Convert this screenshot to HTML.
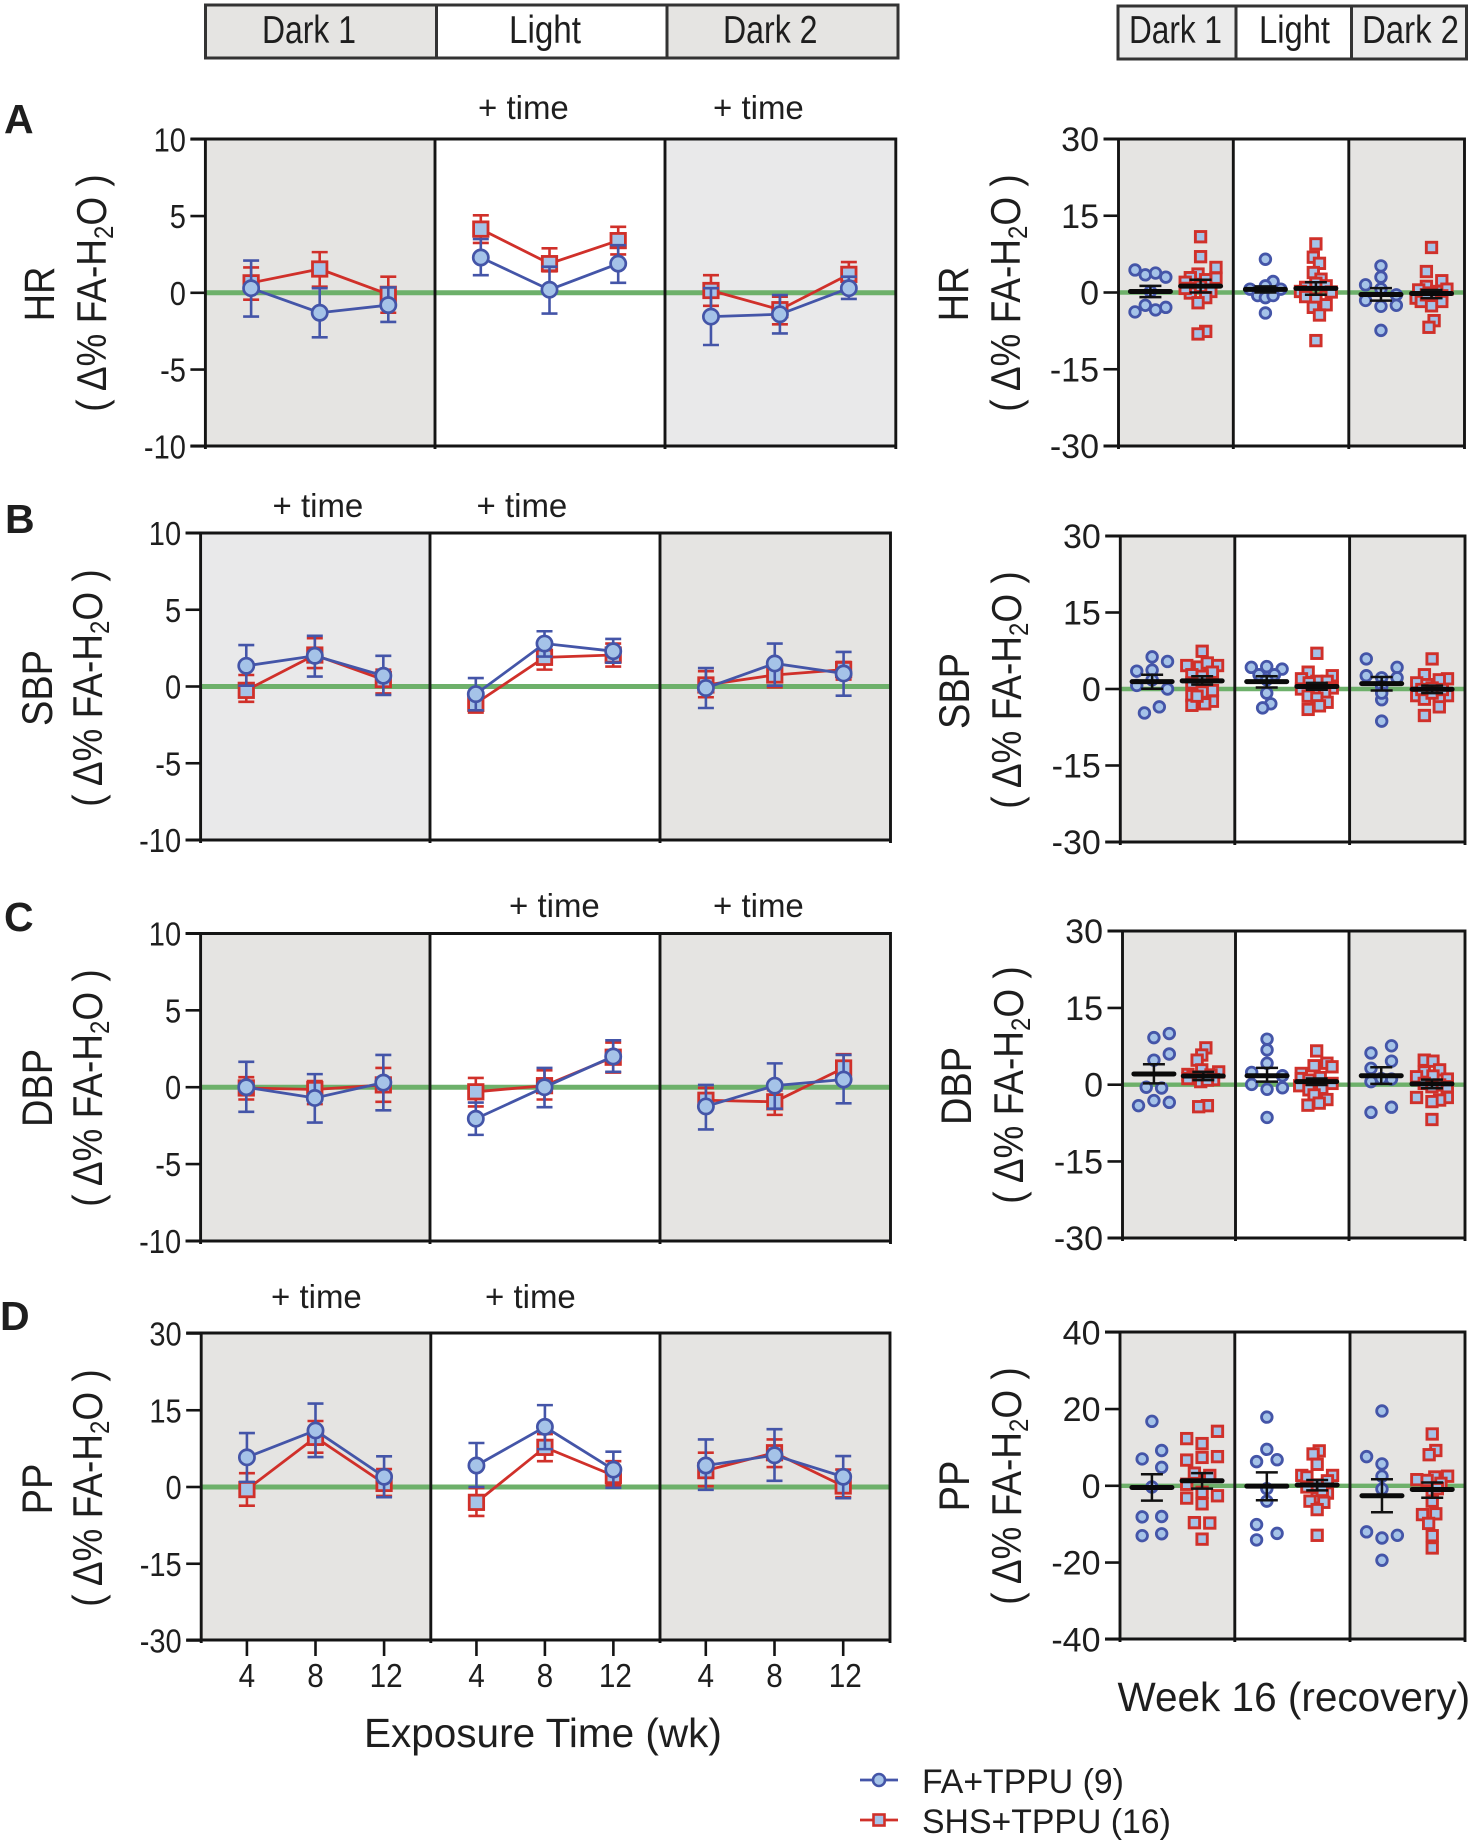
<!DOCTYPE html>
<html lang="en">
<head>
<meta charset="utf-8">
<title>Blood pressure and heart rate responses</title>
<style>
  html, body { margin: 0; padding: 0; background: #fff; }
  svg { display: block; font-family: "Liberation Sans", sans-serif; }
  text { fill: #1e1e1e; }
</style>
</head>
<body>
<svg id="figure" xmlns="http://www.w3.org/2000/svg" width="1472" height="1844" viewBox="0 0 1472 1844">
  <g>
    <rect x="205.5" y="5" width="231" height="53" fill="#e5e4e2" stroke="#333" stroke-width="3"/>
    <rect x="436.5" y="5" width="230.5" height="53" fill="#fff" stroke="#333" stroke-width="3"/>
    <rect x="667" y="5" width="231" height="53" fill="#e5e4e2" stroke="#333" stroke-width="3"/>
    <text x="262" y="43" font-size="39" textLength="94" lengthAdjust="spacingAndGlyphs">Dark 1</text>
    <text x="509" y="43" font-size="39" textLength="72" lengthAdjust="spacingAndGlyphs">Light</text>
    <text x="723" y="43" font-size="39" textLength="94.5" lengthAdjust="spacingAndGlyphs">Dark 2</text>
  </g>
  <g>
    <rect x="1118" y="6" width="118" height="53" fill="#ebebeb" stroke="#333" stroke-width="3"/>
    <rect x="1236" y="6" width="115.5" height="53" fill="#fff" stroke="#333" stroke-width="3"/>
    <rect x="1351.5" y="6" width="115" height="53" fill="#ebebeb" stroke="#333" stroke-width="3"/>
    <text x="1129" y="43" font-size="39" textLength="93" lengthAdjust="spacingAndGlyphs">Dark 1</text>
    <text x="1259" y="43" font-size="39" textLength="71" lengthAdjust="spacingAndGlyphs">Light</text>
    <text x="1362" y="43" font-size="39" textLength="97" lengthAdjust="spacingAndGlyphs">Dark 2</text>
  </g>
  <text x="4" y="133" font-size="41" font-weight="bold">A</text>
  <text x="5" y="533" font-size="41" font-weight="bold">B</text>
  <text x="4" y="931" font-size="41" font-weight="bold">C</text>
  <text x="0" y="1330" font-size="41" font-weight="bold">D</text>
  <text x="364" y="1747" font-size="40.5" fill="#333">Exposure Time (wk)</text>
  <text x="1117.5" y="1711" font-size="40.5" fill="#333">Week 16 (recovery)</text>
  <g>
    <g>
      <line x1="860" x2="898" y1="1780" y2="1780" stroke="#4455a8" stroke-width="2.8"/>
      <circle cx="879" cy="1780" r="6" fill="#a5c3e8" stroke="#4455a8" stroke-width="2.6"/>
      <text x="922" y="1793" font-size="33.8" fill="#333">FA+TPPU (9)</text>
    </g>
    <g>
      <line x1="860" x2="898" y1="1820" y2="1820" stroke="#d0302a" stroke-width="2.8"/>
      <rect x="873.5" y="1814.5" width="11" height="11" fill="#a5c3e8" stroke="#d0302a" stroke-width="2.6"/>
      <text x="922" y="1833" font-size="33.8" fill="#333">SHS+TPPU (16)</text>
    </g>
  </g>
</svg>
<script>
// ---------- Categories and tick labels ----------
const periods = ['Dark 1', 'Light', 'Dark 2'];
const weeks = [4, 8, 12];
const pctTicks = [-10, -5, 0, 5, 10];
const ppTicks = [-30, -15, 0, 15, 30];
const recoveryTicks = [-30, -15, 0, 15, 30];
const ppRecoveryTicks = [-40, -20, 0, 20, 40];

// ---------- Time course: nine values = three weeks in each of three periods ----------
const hrFaMean = [0.3, -1.3, -0.8, 2.3, 0.2, 1.9, -1.55, -1.4, 0.3];
const hrFaHigh = [2.1, 0.3, 0.35, 3.5, 1.7, 3.1, 0.3, -0.15, 1.05];
const hrFaLow = [-1.55, -2.9, -1.9, 1.15, -1.35, 0.65, -3.4, -2.65, -0.4];
const hrShsMean = [0.65, 1.55, -0.1, 4.15, 1.9, 3.4, 0.15, -1.1, 1.2];
const hrShsHigh = [1.65, 2.65, 1.05, 5.05, 2.9, 4.3, 1.15, -0.25, 2.0];
const hrShsLow = [-0.45, 0.4, -1.3, 3.25, 1.4, 2.5, -0.85, -2.05, 0.4];

const sbpFaMean = [1.35, 2.0, 0.7, -0.5, 2.8, 2.3, -0.1, 1.5, 0.85];
const sbpFaHigh = [2.7, 3.3, 2.0, 0.55, 3.6, 3.1, 1.2, 2.8, 2.25];
const sbpFaLow = [0.05, 0.65, -0.55, -1.55, 1.95, 1.55, -1.4, 0.05, -0.6];
const sbpShsMean = [-0.25, 2.05, 0.45, -1.1, 1.9, 2.05, 0.1, 0.75, 1.1];
const sbpShsHigh = [0.75, 3.15, 1.1, -0.65, 2.4, 2.8, 1.0, 1.3, 1.6];
const sbpShsLow = [-1.0, 1.2, -0.45, -1.7, 1.1, 1.3, -0.7, -0.05, 0.45];

const dbpFaMean = [0, -0.7, 0.3, -2.05, 0, 2.0, -1.25, 0.1, 0.5];
const dbpFaHigh = [1.65, 0.85, 2.1, -1.0, 1.25, 3.05, 0.15, 1.55, 2.1];
const dbpFaLow = [-1.6, -2.3, -1.5, -3.1, -1.3, 1.0, -2.75, -1.4, -1.05];
const dbpShsMean = [-0.05, -0.15, 0.15, -0.3, 0.1, 1.95, -0.85, -0.95, 1.25];
const dbpShsHigh = [0.65, 0.4, 1.25, 0.6, 1.1, 2.9, -0.05, -0.2, 2.15];
const dbpShsLow = [-0.8, -1.1, -0.95, -1.25, -0.8, 0.95, -1.25, -1.8, 0.35];

const ppFaMean = [5.8, 11.05, 2.0, 4.2, 11.75, 3.4, 4.2, 6.2, 2.0];
const ppFaHigh = [10.55, 16.3, 6.0, 8.6, 16, 6.9, 9.3, 11.3, 6.05];
const ppFaLow = [1.0, 5.85, -2.0, 0, 7.4, -0.15, -0.55, 1.2, -2.2];
const ppShsMean = [-0.5, 9.7, 0.7, -3.0, 7.75, 2.25, 3.2, 6.7, 0.2];
const ppShsHigh = [2.7, 12.9, 3.5, -0.2, 10.35, 5.05, 6.7, 9.3, 3.4];
const ppShsLow = [-3.65, 6.7, -1.75, -5.65, 5.05, 0.35, 0.15, 3.9, -2.0];

// ---------- Week 16 recovery: three values per array = one per period ----------
const hrFaRecMean = [0.2, 0.6, -0.4];
const hrFaRecHigh = [1.3, 1.2, 0.85];
const hrFaRecLow = [-0.9, 0, -1.6];
const hrShsRecMean = [1.25, 0.8, -0.2];
const hrShsRecHigh = [2.5, 2, 0.5];
const hrShsRecLow = [0, -0.45, -1.1];

const sbpFaRecMean = [1.45, 1.45, 1.05];
const sbpFaRecHigh = [2.8, 2.5, 2.35];
const sbpFaRecLow = [0.05, 0.3, -0.3];
const sbpShsRecMean = [1.6, 0.5, -0.05];
const sbpShsRecHigh = [2.5, 1.2, 0.65];
const sbpShsRecLow = [0.85, -0.15, -0.8];

const dbpFaRecMean = [2.1, 1.75, 1.75];
const dbpFaRecHigh = [4, 3.3, 3.4];
const dbpFaRecLow = [0.25, 0.6, 0.15];
const dbpShsRecMean = [1.7, 0.6, 0.15];
const dbpShsRecHigh = [2.5, 1.2, 1];
const dbpShsRecLow = [0.9, -0.05, -0.7];

const ppFaRecMean = [-0.45, -0.1, -2.6];
const ppFaRecHigh = [3, 3.5, 1.7];
const ppFaRecLow = [-3.85, -3.75, -6.9];
const ppShsRecMean = [1.3, 0.2, -0.95];
const ppShsRecHigh = [3.3, 1.5, 0.85];
const ppShsRecLow = [-0.75, -1.2, -3.1];

// Individual animals per period, with a swarm slot (unitless jitter rank) for each
const hrFaDots = [
  [4.4, 3.45, 3.8, 3.0, -3.8, -2.5, -3.4, -2.9, 0.2],
  [6.5, 2.15, 1.3, 0.65, 0.65, -0.6, -1, -0.6, -4],
  [5.2, 3, 1.5, 0.7, -0.45, -1.55, -2.7, -2.5, -7.4]];
const hrFaSlots = [
  [-3, -1, 1, 3, -3, -1, 1, 3, 0],
  [0, 1.5, 0, -3, 3, -1.5, 0, 1.5, 0],
  [0, 0, -3, 0, 3, -3, 0, 3, 0]];
const hrShsDots = [
  [10.9, 7, 4.9, 2.8, 3.6, 2.9, 2, 2.5, -0.1, 0.2, -1, -2, -7.6, -8.1, 1.2, 0.8],
  [9.5, 6.9, 5.7, 3.9, 2.6, 1.8, 1, 1.3, 0.2, 0.1, -0.8, -1.3, -2.9, -2.4, -4.4, -9.4],
  [8.8, 4.1, 2.3, 1.2, 0.65, 0.5, -1.1, 0.2, -0.1, -0.65, -1.75, -1.75, -2.6, -5.5, -6.8, -0.45]];
const hrShsSlots = [
  [0, 0, 3, 3, -0.5, -2, -3, 1, -2, 2, 1, -0.5, 1, -0.5, 0, -3],
  [0, -0.5, 0.7, -0.5, 1, 0, -2, 2, -3, 3, -2, 0, -0.5, 2, 0.7, 0],
  [0, -1, 2, -1, 3, -2.5, -3, 1, 0, 2, -2, 2, 0, 0.5, -0.5, -1]];

const sbpFaDots = [
  [6.3, 5.4, 3.5, 3.7, 0.7, 1.8, 0, -3.5, -4.7],
  [4.25, 4.4, 3.9, 2.8, 2.8, 1.8, -0.8, -2.9, -3.7],
  [5.9, 4.25, 2.6, 2.2, 2.2, 0.5, -2.1, -6.3, -0.8]];
const sbpFaSlots = [
  [0, 3, -3, 0, -3, 0, 3, 1.4, -1.5],
  [-3, 0, 3, -1.5, 1.5, 0, 0, 0.8, -0.8],
  [-3, 3, -3, 3, 0, 0, 0, 0, 0]];
const sbpShsDots = [
  [7.4, 4.6, 4.3, 4.6, 5.1, 2.8, 3.3, 2.5, 1.2, -0.3, -0.6, -1.3, -2.4, -3.2, -2.9, -1.4],
  [7, 3.3, 2.6, 2, 1.5, 1.5, 1.2, 0, 0.2, -0.1, -0.8, -1.4, -1.8, -2.6, -3.3, -4],
  [5.9, 2.8, 2, 1.8, 1.2, 0.85, 0.2, -1.3, -1.3, -2, -2, -3.5, -5.2, -0.8, -0.1, -0.1]];
const sbpShsSlots = [
  [0, -3, -0.5, 3, 1, -2, 2, 0, -2, 2, 0, -2, 2, -2, 0.5, -1],
  [0, -1.7, 3, -3, 2, 0, -1.5, -3, 3, 0, 1.5, -1.7, 0, 2, 0.5, -1.7],
  [0, -1.5, 3, 1.4, -3, -1, 0, -3, 3, -1.5, 1.4, 1.4, -1.5, 0, -2, 2]];

const dbpFaDots = [
  [10, 9.2, 6, 4.8, -0.5, -0.65, -3.1, -3.45, -4.1],
  [8.9, 6.8, 4.2, 2.4, 1.75, 0.05, -0.9, -0.6, -6.4],
  [7.6, 6.2, 4.6, 3.2, 0.6, 1.1, 1.2, -4.4, -5.4]];
const dbpFaSlots = [
  [3, 0, 3, 0, -1.5, 1.5, 0, 3, -3],
  [0, 0, 0, -3, 3, -3, 0, 3, 0],
  [2, -2, 2, -2, -2, 2, 0, 2, -2]];
const dbpShsDots = [
  [7.2, 5.8, 4.8, 2.5, 2.9, 2, 1.9, 1.5, 1.5, 1.2, 1, 1.2, 0.6, 0.9, -4.1, -4.3],
  [6.6, 4.2, 3.5, 3.7, 2.2, 1.4, 1.2, 0.9, 0.25, -0.2, -1, -0.7, -2, -2.9, -3.6, -4],
  [4.8, 4.6, 2.9, 2.5, 1.55, 1.7, 1.1, 0.25, -0.05, -0.4, -2.5, -2.5, -3, -3.3, -6.8, -0.4]];
const dbpShsSlots = [
  [0.5, -0.3, -1.2, 3, -0.3, -3, 1.5, -2, 0, -1, 2, -3, -0.5, 0.8, 0.8, -0.9],
  [0, 2, 3, -0.5, -3, 0.7, -3, -1.5, 3, -3.3, -1.5, 1, -0.5, 2, 0.5, -1.7],
  [-1.5, 0.2, 1.5, -1.5, -3, 0.2, 3, -1.5, 1.5, 0, -3, 3, 1.5, 0, 0, 3]];

const ppFaDots = [
  [16.8, 9.2, 7, 4.8, -0.3, -8.1, -8, -12.5, -13],
  [17.9, 9.5, 6.3, 6.8, -0.75, -4, -10.1, -12.4, -14.1],
  [19.5, 7.6, 5.7, 2.5, -0.85, -12, -12.9, -13.6, -19.4]];
const ppFaSlots = [
  [0, 1.9, -1.9, 1.9, 0, -1.9, 1.9, 1.9, -1.9],
  [0, 0, -2, 2, 0, 0, -2, 2, -2],
  [0, -3, 0, 0, 0, -3, 3, 0, 0]];
const ppShsDots = [
  [14.2, 12.3, 11, 6.7, 7.4, 7.6, 3.3, 2.7, 0.4, -1.7, -2.6, -3.2, -4.7, -9.6, -9.7, -13.9],
  [9.1, 8.3, 5.6, 2.7, 2.7, 2.3, 1.3, 0.2, -1.9, -3.1, -4, -4.3, -6.2, -12.9, -0.3, -1.2],
  [13.5, 9.2, 8.1, 2.5, 2.3, 1.6, 1.4, 0.65, -1.7, -4, -7.5, -7.3, -9.8, -13, -16.2, -0.75]];
const ppShsSlots = [
  [3, -3, 0, -3, 0, 3, -1.5, 1.5, -3, 0, 3, -3, 0, -1.5, 1.5, 0],
  [0.4, -0.8, 0, -3, 3, -2, 2, 0, 2, 0, -1.4, 1.3, 0, 0, -2, 1],
  [0, 0.7, -0.6, 3, 0.5, -3, -1, 1.7, 0, 0, -1.9, 0.7, -0.7, 0, 0, 1]];

// ---------- Rendering ----------
const SVG_NS = 'http://www.w3.org/2000/svg';
const figure = document.getElementById('figure');
const BLUE = '#4455a8', RED = '#d0302a', DOT_FILL = '#a5c3e8', GREEN = '#6db06a', AXIS = '#141414';

function mk(parent, tag, attrs, name) {
  const el = document.createElementNS(SVG_NS, tag);
  for (const k in attrs) el.setAttribute(k, attrs[k]);
  
  
  parent.appendChild(el);
  return el;
}

// Builds shaded period bands and the zero line; returns the y scale.
function drawFrame(g, box, ticks, fills, slug, zeroWidth) {
  const n = ticks.length;
  const y = v => box.zero - v * (box.bottom - box.top) / (ticks[n - 1] - ticks[0]);
  periods.forEach((p, i) => {
    mk(g, 'rect', { x: box.edges[i], y: box.top, width: box.edges[i + 1] - box.edges[i], height: box.bottom - box.top, fill: fills[i] }, slug + '-band-' + p.toLowerCase().replace(' ', '-'));
  });
  mk(g, 'line', { x1: box.edges[0], x2: box.edges[3], y1: y(0), y2: y(0), stroke: GREEN, 'stroke-width': zeroWidth }, slug + '-zero-line');
  return y;
}

function drawAxes(g, box, ticks, y, slug, labelSize, labelScale) {
  box.edges.forEach((e, i) => {
    mk(g, 'line', { x1: e, x2: e, y1: box.top - 1.5, y2: box.bottom + 3, stroke: AXIS, 'stroke-width': 2.9 }, slug + '-period-divider-' + i);
  });
  mk(g, 'line', { x1: box.edges[0] - 15, x2: box.edges[3], y1: box.top, y2: box.top, stroke: AXIS, 'stroke-width': 2.9 }, slug + '-top-border');
  mk(g, 'line', { x1: box.edges[0] - 15, x2: box.edges[3], y1: box.bottom, y2: box.bottom, stroke: AXIS, 'stroke-width': 2.9 }, slug + '-x-axis');
  ticks.forEach(t => {
    mk(g, 'line', { x1: box.edges[0] - 15, x2: box.edges[0], y1: y(t), y2: y(t), stroke: AXIS, 'stroke-width': 2.6 }, slug + '-y-tick');
    const lab = mk(g, 'text', { transform: `translate(${box.edges[0] - 19.5},${y(t) + 12}) scale(${labelScale},1)`, 'font-size': labelSize, 'text-anchor': 'end' }, slug + '-y-tick-label');
    lab.textContent = String(t);
  });
}

function drawYTitles(g, box, metric, slug) {
  const a = mk(g, 'text', { transform: `translate(${box.titleX},${box.titleY}) rotate(-90) scale(1,1.12)`, 'font-size': 38, 'text-anchor': 'middle' }, slug + '-y-title');
  a.textContent = metric;
  const b = mk(g, 'text', { transform: `translate(${box.unitX},${box.unitY}) rotate(-90) scale(1,1.13)`, 'font-size': 37, 'text-anchor': 'middle', 'xml:space': 'preserve' }, slug + '-y-unit-title');
  const t1 = document.createElementNS(SVG_NS, 'tspan');
  t1.textContent = '( \u0394%  FA-H';
  b.appendChild(t1);
  const t2 = document.createElementNS(SVG_NS, 'tspan');
  t2.setAttribute('font-size', '24');
  t2.setAttribute('dy', '6');
  t2.textContent = '2';
  b.appendChild(t2);
  const t3 = document.createElementNS(SVG_NS, 'tspan');
  t3.setAttribute('dy', '-6');
  t3.textContent = 'O )';
  b.appendChild(t3);
}

const WK_MIN = 4 - 46 / 17.25, WK_MAX = 12 + 47 / 17.25;

function drawSeries(g, box, y, series, colour, slug, isSquare) {
  const x = (p, w) => box.edges[p] + (weeks[w] - WK_MIN) / (WK_MAX - WK_MIN) * (box.edges[p + 1] - box.edges[p]);
  periods.forEach((p, pi) => {
    const pts = weeks.map((w, wi) => x(pi, wi) + ',' + y(series.mean[pi * 3 + wi])).join(' ');
    mk(g, 'polyline', { points: pts, fill: 'none', stroke: colour, 'stroke-width': 2.8 }, slug + '-line-' + pi);
  });
  periods.forEach((p, pi) => {
    weeks.forEach((w, wi) => {
      const i = pi * 3 + wi, cx = x(pi, wi);
      mk(g, 'line', { x1: cx, x2: cx, y1: y(series.high[i]), y2: y(series.low[i]), stroke: colour, 'stroke-width': 2.6 }, slug + '-error-bar');
      mk(g, 'line', { x1: cx - 8, x2: cx + 8, y1: y(series.high[i]), y2: y(series.high[i]), stroke: colour, 'stroke-width': 2.6 }, slug + '-error-cap-high');
      mk(g, 'line', { x1: cx - 8, x2: cx + 8, y1: y(series.low[i]), y2: y(series.low[i]), stroke: colour, 'stroke-width': 2.6 }, slug + '-error-cap-low');
      if (isSquare) {
        mk(g, 'rect', { x: cx - 7.2, y: y(series.mean[i]) - 7.2, width: 14.4, height: 14.4, fill: DOT_FILL, stroke: colour, 'stroke-width': 2.8 }, slug + '-point');
      } else {
        mk(g, 'circle', { cx: cx, cy: y(series.mean[i]), r: 7.6, fill: DOT_FILL, stroke: colour, 'stroke-width': 2.7 }, slug + '-point');
      }
    });
  });
}

function drawTimePanel(box, metric, ticks, fills, fa, shs, sigX, sigY, showX) {
  const slug = metric.toLowerCase() + '-time';
  const g = mk(figure, 'g', {}, slug + '-panel');
  const y = drawFrame(g, box, ticks, fills, slug, 5);
  drawSeries(g, box, y, shs, RED, slug + '-shs', true);
  drawSeries(g, box, y, fa, BLUE, slug + '-fa', false);
  drawAxes(g, box, ticks, y, slug, 33, 0.88);
  drawYTitles(g, box, metric, slug);
  sigX.forEach(sx => {
    const s = mk(g, 'text', { x: sx, y: sigY, 'font-size': 33, fill: '#333' }, slug + '-time-significance');
    s.textContent = '+ time';
  });
  if (showX) {
    periods.forEach((p, pi) => {
      weeks.forEach(w => {
        const cx = box.edges[pi] + (w - WK_MIN) / (WK_MAX - WK_MIN) * (box.edges[pi + 1] - box.edges[pi]);
        mk(g, 'line', { x1: cx, x2: cx, y1: box.bottom, y2: box.bottom + 16, stroke: AXIS, 'stroke-width': 2.6 }, slug + '-x-tick');
        const l = mk(g, 'text', { transform: `translate(${cx + (w === 12 ? 2 : 0)},${box.bottom + 47}) scale(0.9,1)`, 'font-size': 33, 'text-anchor': 'middle' }, slug + '-x-tick-label');
        l.textContent = String(w);
      });
    });
  }
}

function drawRecoveryGroup(g, box, y, rec, colour, frac, slug, isSquare) {
  const SLOT = 5.13;
  periods.forEach((p, pi) => {
    const cx = box.edges[pi] + frac * (box.edges[pi + 1] - box.edges[pi]);
    rec.dots[pi].forEach((v, i) => {
      const dx = cx + rec.slots[pi][i] * SLOT;
      if (isSquare) {
        mk(g, 'rect', { x: dx - 5.2, y: y(v) - 5.2, width: 10.4, height: 10.4, fill: DOT_FILL, stroke: colour, 'stroke-width': 2.9 }, slug + '-animal-dot');
      } else {
        mk(g, 'circle', { cx: dx, cy: y(v), r: 5.3, fill: DOT_FILL, stroke: colour, 'stroke-width': 2.8 }, slug + '-animal-dot');
      }
    });
  });
  periods.forEach((p, pi) => {
    const cx = box.edges[pi] + frac * (box.edges[pi + 1] - box.edges[pi]);
    mk(g, 'line', { x1: cx, x2: cx, y1: y(rec.high[pi]), y2: y(rec.low[pi]), stroke: '#111', 'stroke-width': 2.5 }, slug + '-sem-bar');
    mk(g, 'line', { x1: cx - 11, x2: cx + 11, y1: y(rec.high[pi]), y2: y(rec.high[pi]), stroke: '#111', 'stroke-width': 2.5 }, slug + '-sem-cap-high');
    mk(g, 'line', { x1: cx - 11, x2: cx + 11, y1: y(rec.low[pi]), y2: y(rec.low[pi]), stroke: '#111', 'stroke-width': 2.5 }, slug + '-sem-cap-low');
    mk(g, 'line', { x1: cx - 20, x2: cx + 20, y1: y(rec.mean[pi]), y2: y(rec.mean[pi]), stroke: '#0a0a0a', 'stroke-width': 5, 'stroke-linecap': 'round' }, slug + '-mean-bar');
  });
}

function drawRecoveryPanel(box, metric, ticks, fa, shs) {
  const slug = metric.toLowerCase() + '-recovery';
  const g = mk(figure, 'g', {}, slug + '-panel');
  const y = drawFrame(g, box, ticks, ['#e5e4e2', '#fff', '#e5e4e2'], slug, 4.4);
  drawRecoveryGroup(g, box, y, fa, BLUE, 0.278, slug + '-fa', false);
  drawRecoveryGroup(g, box, y, shs, RED, 0.715, slug + '-shs', true);
  drawAxes(g, box, ticks, y, slug, 34, 1);
  drawYTitles(g, box, metric, slug);
}

const G1 = '#e5e4e2', G2 = '#e9e9ea', W = '#fff';

drawTimePanel(
  { edges: [205.4, 435, 665, 895.8], top: 139, bottom: 446, zero: 292.8, titleX: 54, titleY: 294, unitX: 106, unitY: 293 },
  'HR', pctTicks, [G1, W, G2],
  { mean: hrFaMean, high: hrFaHigh, low: hrFaLow }, { mean: hrShsMean, high: hrShsHigh, low: hrShsLow },
  [478, 713], 119, false);
drawTimePanel(
  { edges: [200.6, 430, 660, 890.5], top: 533, bottom: 840, zero: 686.5, titleX: 52, titleY: 688, unitX: 102, unitY: 688 },
  'SBP', pctTicks, [G2, W, G1],
  { mean: sbpFaMean, high: sbpFaHigh, low: sbpFaLow }, { mean: sbpShsMean, high: sbpShsHigh, low: sbpShsLow },
  [272.5, 476.5], 517, false);
drawTimePanel(
  { edges: [200.6, 430, 660, 890.5], top: 933.5, bottom: 1241, zero: 1087.2, titleX: 52, titleY: 1088, unitX: 102, unitY: 1088 },
  'DBP', pctTicks, [G1, W, G1],
  { mean: dbpFaMean, high: dbpFaHigh, low: dbpFaLow }, { mean: dbpShsMean, high: dbpShsHigh, low: dbpShsLow },
  [509, 713], 917, false);
drawTimePanel(
  { edges: [201.2, 430.8, 660, 890], top: 1333, bottom: 1640, zero: 1487, titleX: 52, titleY: 1489, unitX: 102, unitY: 1488 },
  'PP', ppTicks, [G1, W, G1],
  { mean: ppFaMean, high: ppFaHigh, low: ppFaLow }, { mean: ppShsMean, high: ppShsHigh, low: ppShsLow },
  [271, 485], 1308, true);

drawRecoveryPanel(
  { edges: [1118.5, 1233.3, 1348.8, 1464.5], top: 139, bottom: 446, zero: 292.5, titleX: 968, titleY: 294, unitX: 1020, unitY: 293 },
  'HR', recoveryTicks,
  { dots: hrFaDots, slots: hrFaSlots, mean: hrFaRecMean, high: hrFaRecHigh, low: hrFaRecLow },
  { dots: hrShsDots, slots: hrShsSlots, mean: hrShsRecMean, high: hrShsRecHigh, low: hrShsRecLow });
drawRecoveryPanel(
  { edges: [1120.3, 1234.8, 1349.6, 1465], top: 536, bottom: 842, zero: 689, titleX: 969, titleY: 691, unitX: 1021, unitY: 690 },
  'SBP', recoveryTicks,
  { dots: sbpFaDots, slots: sbpFaSlots, mean: sbpFaRecMean, high: sbpFaRecHigh, low: sbpFaRecLow },
  { dots: sbpShsDots, slots: sbpShsSlots, mean: sbpShsRecMean, high: sbpShsRecHigh, low: sbpShsRecLow });
drawRecoveryPanel(
  { edges: [1122.5, 1235.5, 1349, 1465], top: 931, bottom: 1238, zero: 1084.7, titleX: 971, titleY: 1086, unitX: 1023, unitY: 1085 },
  'DBP', recoveryTicks,
  { dots: dbpFaDots, slots: dbpFaSlots, mean: dbpFaRecMean, high: dbpFaRecHigh, low: dbpFaRecLow },
  { dots: dbpShsDots, slots: dbpShsSlots, mean: dbpShsRecMean, high: dbpShsRecHigh, low: dbpShsRecLow });
drawRecoveryPanel(
  { edges: [1120, 1234.8, 1350, 1465], top: 1332, bottom: 1639, zero: 1485.8, titleX: 969, titleY: 1486, unitX: 1021, unitY: 1486 },
  'PP', ppRecoveryTicks,
  { dots: ppFaDots, slots: ppFaSlots, mean: ppFaRecMean, high: ppFaRecHigh, low: ppFaRecLow },
  { dots: ppShsDots, slots: ppShsSlots, mean: ppShsRecMean, high: ppShsRecHigh, low: ppShsRecLow });
</script>
</body>
</html>
